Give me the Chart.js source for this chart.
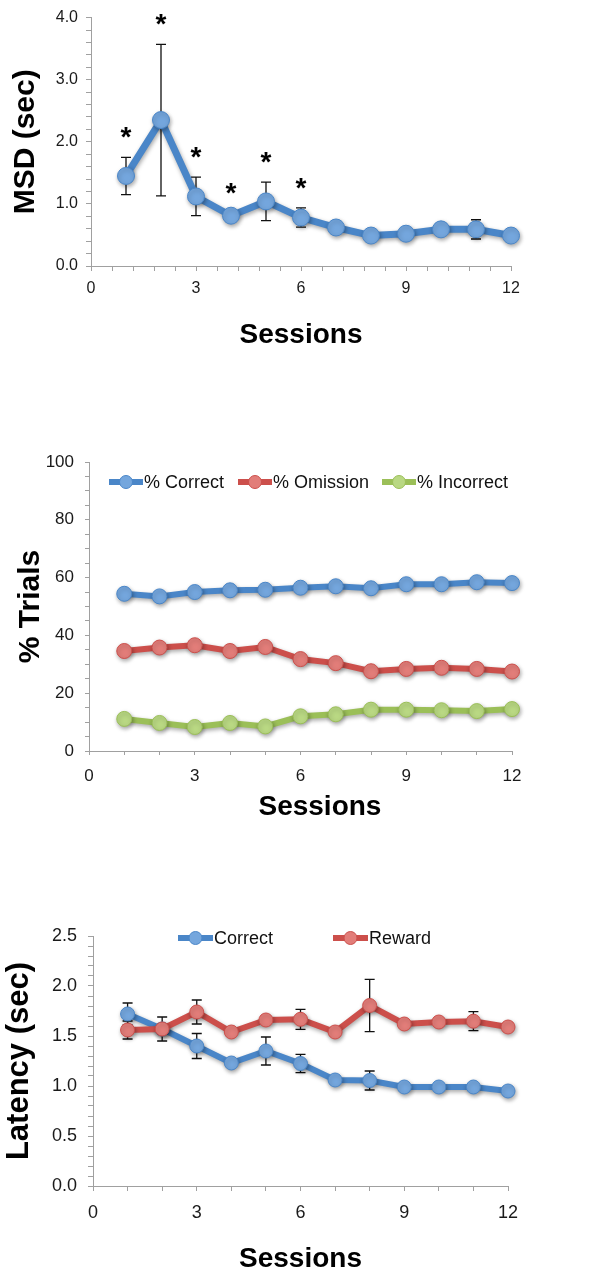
<!DOCTYPE html>
<html>
<head>
<meta charset="utf-8">
<script src="https://cdn.jsdelivr.net/npm/chart.js@4.4.1/dist/chart.umd.min.js"></script>
<style>
  html, body { margin: 0; padding: 0; background: #fff; }
  body { width: 616px; height: 1277px; position: relative; overflow: hidden; }
  canvas { position: absolute; left: 0; }
</style>
</head>
<body>
<canvas id="graficoMsd" width="616" height="360" style="top:0px"></canvas>
<canvas id="graficoTrials" width="616" height="385" style="top:440px"></canvas>
<canvas id="graficoLatencia" width="616" height="397" style="top:880px"></canvas>
<script>
// datos
const sesiones = [1, 2, 3, 4, 5, 6, 7, 8, 9, 10, 11, 12];

const msd = [1.45, 2.35, 1.12, 0.81, 1.04, 0.78, 0.62, 0.49, 0.52, 0.59, 0.59, 0.49];
const msdError = [0.30, 1.22, 0.31, 0.05, 0.31, 0.155, 0.04, 0.03, 0.03, 0.04, 0.155, 0.03];
const msdSignificativo = [true, true, true, true, true, true, false, false, false, false, false, false];

const pctCorrect = [54.4, 53.5, 55.0, 55.6, 55.8, 56.5, 57.0, 56.3, 57.7, 57.7, 58.4, 58.1];
const pctOmission = [34.6, 35.8, 36.6, 34.6, 36.0, 31.8, 30.4, 27.6, 28.4, 28.8, 28.4, 27.5];
const pctIncorrect = [11.1, 9.7, 8.3, 9.7, 8.5, 12.0, 12.7, 14.3, 14.3, 14.1, 13.8, 14.5];

const latCorrect = [1.72, 1.57, 1.40, 1.23, 1.35, 1.225, 1.06, 1.055, 0.99, 0.99, 0.99, 0.95];
const latCorrectError = [0.11, 0.12, 0.125, 0.03, 0.14, 0.092, 0.03, 0.095, 0.03, 0.03, 0.03, 0.03];
const latReward = [1.56, 1.57, 1.74, 1.54, 1.66, 1.667, 1.54, 1.805, 1.62, 1.64, 1.648, 1.59];
const latRewardError = [0.09, 0.05, 0.12, 0.03, 0.03, 0.10, 0.03, 0.262, 0.03, 0.03, 0.095, 0.03];

const FUENTE = "'Liberation Sans', Arial, Helvetica, sans-serif";
const gris = '#a0a0a0';
const azul = '#4a86c8', azulClaro = '#74a6dd';
const rojo = '#cc4f4b', rojoClaro = '#e27d79';
const verde = '#9bbf58', verdeClaro = '#b9d883';

const multiplo = (v, m) => Math.abs(v / m - Math.round(v / m)) < 1e-6;

function serie(label, valores, color, relleno, extra) {
  return Object.assign({
    label,
    data: sesiones.map((s, i) => ({ x: s, y: valores[i] })),
    borderColor: color, borderWidth: 6,
    pointRadius: 7.5, pointBackgroundColor: relleno, pointBorderColor: color, pointBorderWidth: 1,
    clip: false, tension: 0
  }, extra);
}

// barras de error + sombra de las series + asteriscos
const barrasError = {
  id: 'barrasError',
  beforeDatasetsDraw(chart) {
    const ctx = chart.ctx, ey = chart.scales.y;
    ctx.save();
    ctx.strokeStyle = '#111';
    ctx.lineWidth = 1.3;
    chart.data.datasets.forEach((ds, i) => {
      if (!ds.errores) return;
      chart.getDatasetMeta(i).data.forEach((pt, j) => {
        const e = ds.errores[j];
        if (!e) return;
        const arriba = ey.getPixelForValue(ds.data[j].y + e);
        const abajo = ey.getPixelForValue(ds.data[j].y - e);
        ctx.beginPath();
        ctx.moveTo(pt.x, arriba); ctx.lineTo(pt.x, abajo);
        ctx.moveTo(pt.x - 5, arriba); ctx.lineTo(pt.x + 5, arriba);
        ctx.moveTo(pt.x - 5, abajo); ctx.lineTo(pt.x + 5, abajo);
        ctx.stroke();
      });
    });
    ctx.restore();
    ctx.save();
    ctx.shadowColor = 'rgba(0,0,0,0.35)';
    ctx.shadowBlur = 4;
    ctx.shadowOffsetX = 1;
    ctx.shadowOffsetY = 2;
  },
  afterDatasetsDraw(chart) {
    const ctx = chart.ctx, ey = chart.scales.y;
    ctx.restore();
    ctx.save();
    ctx.fillStyle = '#000';
    ctx.font = 'bold 28px ' + FUENTE;
    ctx.textAlign = 'center';
    ctx.textBaseline = 'alphabetic';
    chart.data.datasets.forEach((ds, i) => {
      if (!ds.asteriscos) return;
      chart.getDatasetMeta(i).data.forEach((pt, j) => {
        if (!ds.asteriscos[j]) return;
        const tope = ey.getPixelForValue(ds.data[j].y + (ds.errores ? ds.errores[j] : 0));
        ctx.fillText('*', pt.x, tope - 11);
      });
    });
    ctx.restore();
  }
};

// leyenda con linea y marcador, como la del original
const leyendaLinea = {
  id: 'leyendaLinea',
  afterDraw(chart, args, opts) {
    if (!opts.inicios) return;
    const ctx = chart.ctx, L = opts.largo;
    ctx.save();
    chart.data.datasets.forEach((ds, i) => {
      const x0 = opts.inicios[i], y0 = opts.y;
      ctx.strokeStyle = ds.borderColor;
      ctx.lineWidth = ds.borderWidth;
      ctx.beginPath(); ctx.moveTo(x0, y0); ctx.lineTo(x0 + L, y0); ctx.stroke();
      ctx.fillStyle = ds.pointBackgroundColor;
      ctx.strokeStyle = ds.pointBorderColor;
      ctx.lineWidth = 1;
      ctx.beginPath(); ctx.arc(x0 + L / 2, y0, opts.radio, 0, Math.PI * 2); ctx.fill(); ctx.stroke();
      ctx.fillStyle = '#111';
      ctx.font = opts.fuente;
      ctx.textAlign = 'left';
      ctx.textBaseline = 'middle';
      ctx.fillText(ds.label, x0 + L + 1, y0 + 1);
    });
    ctx.restore();
  }
};

function ejeX(cfg) {
  return {
    type: 'linear', min: 0, max: 12,
    border: { color: gris, width: 1 },
    grid: { drawOnChartArea: false, tickLength: cfg.tick, color: gris },
    ticks: {
      stepSize: cfg.paso, autoSkip: false, maxRotation: 0, padding: cfg.pad, color: '#1a1a1a',
      font: { family: FUENTE, size: cfg.tam },
      callback: v => multiplo(v, 3) ? String(Math.round(v)) : ''
    },
    title: {
      display: true, text: cfg.titulo, color: '#000',
      font: { family: FUENTE, size: 28, weight: 'bold' }, padding: { top: 0, bottom: cfg.padTitulo }
    },
    afterFit: s => { s.height = cfg.alto; }
  };
}

function ejeY(cfg) {
  return {
    type: 'linear', min: cfg.min, max: cfg.max,
    border: { color: gris, width: 1 },
    grid: { drawOnChartArea: false, tickLength: cfg.tick, color: gris },
    ticks: {
      stepSize: cfg.paso, autoSkip: false, padding: cfg.pad, color: '#1a1a1a',
      font: { family: FUENTE, size: cfg.tam },
      callback: v => multiplo(v, cfg.cada) ? (cfg.dec ? v.toFixed(cfg.dec) : String(Math.round(v))) : ''
    },
    title: {
      display: true, text: cfg.titulo, color: '#000',
      font: { family: FUENTE, size: cfg.tamTitulo, weight: 'bold' }, padding: { top: cfg.padTitulo, bottom: 0 }
    },
    afterFit: s => { s.width = cfg.ancho; }
  };
}

const base = {
  responsive: false, animation: false, events: [],
  plugins: { legend: { display: false }, tooltip: { enabled: false } }
};

// 1) MSD
new Chart(document.getElementById('graficoMsd'), {
  type: 'line',
  data: {
    datasets: [serie('MSD', msd, azul, azulClaro, { borderWidth: 7, pointRadius: 8.5, errores: msdError, asteriscos: msdSignificativo })]
  },
  options: Object.assign({}, base, {
    layout: { padding: { top: 11, right: 105, left: 0, bottom: 0 } },
    scales: {
      x: ejeX({ paso: 0.6, tick: 5, pad: 8, tam: 16, titulo: 'Sessions', padTitulo: 8, alto: 94 }),
      y: ejeY({ min: 0, max: 4, paso: 0.2, cada: 1, dec: 1, tick: 5, pad: 8, tam: 16, titulo: 'MSD (sec)', tamTitulo: 30, padTitulo: 8, ancho: 91 })
    }
  }),
  plugins: [barrasError]
});

// 2) % Trials
new Chart(document.getElementById('graficoTrials'), {
  type: 'line',
  data: {
    datasets: [
      serie('% Correct', pctCorrect, azul, azulClaro),
      serie('% Omission', pctOmission, rojo, rojoClaro),
      serie('% Incorrect', pctIncorrect, verde, verdeClaro)
    ]
  },
  options: Object.assign({}, base, {
    layout: { padding: { top: 22, right: 104, left: 0, bottom: 0 } },
    plugins: Object.assign({}, base.plugins, {
      leyendaLinea: { inicios: [109, 238, 382], y: 42, largo: 34, radio: 6.5, fuente: '18px ' + FUENTE }
    }),
    scales: {
      x: ejeX({ paso: 1, tick: 4, pad: 11, tam: 17, titulo: '     Sessions', padTitulo: 1, alto: 74 }),
      y: ejeY({ min: 0, max: 100, paso: 5, cada: 20, dec: 0, tick: 4, pad: 11, tam: 17, titulo: '% Trials', tamTitulo: 30, padTitulo: 13, ancho: 89 })
    }
  }),
  plugins: [barrasError, leyendaLinea]
});

// 3) Latency
new Chart(document.getElementById('graficoLatencia'), {
  type: 'line',
  data: {
    datasets: [
      serie('Correct', latCorrect, azul, azulClaro, { errores: latCorrectError, order: 2, pointRadius: 7 }),
      serie('Reward', latReward, rojo, rojoClaro, { errores: latRewardError, order: 1, pointRadius: 7 })
    ]
  },
  options: Object.assign({}, base, {
    layout: { padding: { top: 56, right: 108, left: 0, bottom: 0 } },
    plugins: Object.assign({}, base.plugins, {
      leyendaLinea: { inicios: [178, 333], y: 58, largo: 35, radio: 6.5, fuente: '18px ' + FUENTE }
    }),
    scales: {
      x: ejeX({ paso: 1, tick: 5, pad: 11, tam: 18, titulo: 'Sessions', padTitulo: 1, alto: 91 }),
      y: ejeY({ min: 0, max: 2.5, paso: 0.1, cada: 0.5, dec: 1, tick: 5, pad: 11, tam: 18, titulo: 'Latency (sec)', tamTitulo: 31, padTitulo: 1, ancho: 93 })
    }
  }),
  plugins: [barrasError, leyendaLinea]
});
</script>
</body>
</html>
